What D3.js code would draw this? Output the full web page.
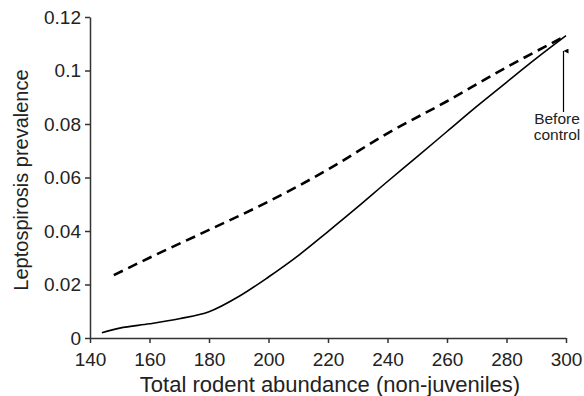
<!DOCTYPE html>
<html>
<head>
<meta charset="utf-8">
<script src="https://cdn.jsdelivr.net/npm/d3@7"></script>
<style>
  body { margin: 0; background: #fff; }
  svg { display: block; font-family: "Liberation Sans", Arial, sans-serif; }
</style>
</head>
<body>
<svg id="chart" width="584" height="396"></svg>
<script>
// values
const xTicks = [140, 160, 180, 200, 220, 240, 260, 280, 300];
const yTicks = [0, 0.02, 0.04, 0.06, 0.08, 0.1, 0.12];

// solid curve
const solidX = [144, 150, 160, 170, 180, 190, 200, 210, 220, 230, 240, 250, 260, 270, 280, 290, 300];
const solidY = [0.002, 0.0037, 0.0053, 0.0072, 0.0098, 0.0155, 0.0228, 0.0308, 0.0398, 0.049, 0.0585, 0.0678, 0.0772, 0.0866, 0.0956, 0.1045, 0.113];

// dashed curve
const dashX = [148, 160, 180, 200, 220, 240, 260, 280, 300];
const dashY = [0.0235, 0.030, 0.0404, 0.051, 0.063, 0.0765, 0.0885, 0.1012, 0.113];

const annotation = ["Before", "control"];

const margin = {left: 90, right: 18, top: 17, bottom: 58};
const width = 584, height = 396;

const svg = d3.select("#chart");

const x = d3.scaleLinear().domain([140, 300]).range([margin.left, width - margin.right]);
const y = d3.scaleLinear().domain([0, 0.12]).range([height - margin.bottom, margin.top]);

const axisColor = "#333";

// x axis
const gx = svg.append("g")
    .attr("transform", `translate(0,${y(0)})`)
    .call(d3.axisBottom(x).tickValues(xTicks).tickSize(5).tickSizeOuter(0).tickPadding(10));
// y axis
const gy = svg.append("g")
    .attr("transform", `translate(${x(140)},0)`)
    .call(d3.axisLeft(y).tickValues(yTicks).tickSize(5).tickSizeOuter(0).tickPadding(4)
        .tickFormat(d => d === 0 ? "0" : String(+d.toFixed(2))));

[gx, gy].forEach(g => {
    g.select(".domain").attr("stroke", axisColor).attr("stroke-width", 1.5);
    g.selectAll(".tick line").attr("stroke", axisColor).attr("stroke-width", 1.5);
    g.selectAll(".tick text").attr("fill", "#222").style("font-size", "19px")
        .style("font-family", "'Liberation Sans', Arial, sans-serif");
});

// axis titles
svg.append("text")
    .attr("x", 330)
    .attr("y", 392)
    .attr("text-anchor", "middle")
    .attr("fill", "#222")
    .style("font-size", "22px")
    .text("Total rodent abundance (non-juveniles)");

svg.append("text")
    .attr("transform", `translate(28,180) rotate(-90)`)
    .attr("text-anchor", "middle")
    .attr("fill", "#222")
    .style("font-size", "20px")
    .text("Leptospirosis prevalence");

const line = d3.line()
    .x(d => x(d[0]))
    .y(d => y(d[1]))
    .curve(d3.curveMonotoneX);

svg.append("path")
    .datum(solidX.map((v, i) => [v, solidY[i]]))
    .attr("fill", "none")
    .attr("stroke", "#000")
    .attr("stroke-width", 1.6)
    .attr("d", line);

svg.append("path")
    .datum(dashX.map((v, i) => [v, dashY[i]]))
    .attr("fill", "none")
    .attr("stroke", "#000")
    .attr("stroke-width", 2.6)
    .attr("stroke-dasharray", "10,6")
    .attr("d", line);

// annotation arrow
svg.append("defs").append("marker")
    .attr("id", "head")
    .attr("viewBox", "0 0 10 10")
    .attr("refX", 5).attr("refY", 0)
    .attr("markerWidth", 5).attr("markerHeight", 7)
    .attr("orient", "auto-start-reverse")
    .attr("markerUnits", "userSpaceOnUse")
    .append("path")
    .attr("d", "M0,10L5,0L10,10Z")
    .attr("fill", "#000");

svg.append("line")
    .attr("x1", 563.5).attr("x2", 563.5)
    .attr("y1", 112).attr("y2", 51)
    .attr("stroke", "#000")
    .attr("stroke-width", 1.2)
    .attr("marker-end", "url(#head)");

svg.append("g")
    .selectAll("text")
    .data(annotation)
    .join("text")
    .attr("x", 557)
    .attr("y", (d, i) => 124 + i * 16)
    .attr("text-anchor", "middle")
    .attr("fill", "#222")
    .style("font-size", "15.5px")
    .text(d => d);
</script>
</body>
</html>
